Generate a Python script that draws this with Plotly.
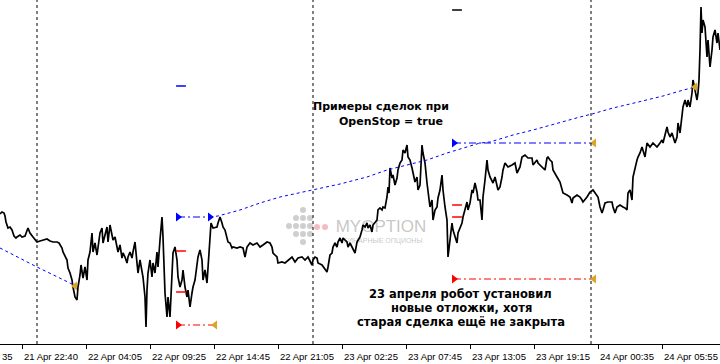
import plotly.graph_objects as go

# ---------------- data (price in points, x = bar index) ----------------
bar_idx = [0, 2, 4, 5, 6, 8, 10, 12, 14, 16, 17, 20, 22, 25, 28, 30, 33, 37, 40, 43, 47, 50, 53, 57, 59, 62, 63, 67, 68, 70,
           72, 73, 75, 77, 78, 80, 81, 83, 85, 87, 88, 90, 92, 93, 95, 97, 98, 100, 102, 103, 105, 107, 108, 110, 112, 113, 115, 117, 118, 120,
           122, 123, 125, 127, 128, 130, 132, 133, 135, 137, 138, 140, 142, 143, 145, 146, 147, 148, 150, 152, 153, 155, 157, 158, 160, 162, 163, 164, 165, 167,
           168, 170, 172, 173, 175, 177, 178, 180, 182, 183, 185, 187, 188, 190, 192, 193, 195, 197, 198, 200, 202, 203, 205, 207, 208, 210, 211, 213, 217, 218,
           220, 222, 223, 225, 227, 228, 230, 232, 233, 237, 240, 243, 245, 247, 250, 253, 257, 260, 263, 267, 270, 272, 273, 277, 278, 282, 285, 288, 292, 295,
           298, 302, 305, 308, 310, 312, 313, 315, 317, 318, 322, 325, 327, 328, 330, 332, 333, 335, 337, 338, 340, 342, 343, 347, 348, 350, 353, 355, 357, 358,
           360, 362, 363, 365, 367, 368, 370, 372, 373, 377, 378, 380, 382, 383, 385, 387, 388, 389, 390, 392, 393, 395, 397, 398, 400, 402, 403, 405, 407, 408,
           410, 412, 413, 415, 417, 418, 420, 422, 423, 425, 427, 428, 430, 432, 433, 435, 437, 438, 440, 442, 443, 445, 447, 448, 450, 452, 453, 455, 457, 458,
           460, 462, 463, 465, 467, 468, 470, 472, 473, 475, 477, 478, 480, 482, 483, 485, 487, 488, 490, 493, 495, 498, 500, 502, 503, 505, 508, 512, 515, 517,
           520, 522, 525, 528, 532, 533, 537, 538, 542, 545, 547, 548, 550, 552, 553, 555, 557, 560, 562, 563, 567, 570, 572, 573, 577, 580, 582, 583, 587, 590,
           593, 595, 598, 600, 602, 603, 605, 608, 612, 613, 615, 617, 620, 623, 625, 627, 628, 630, 632, 633, 635, 637, 638, 640, 642, 643, 645, 647, 650, 653,
           657, 660, 662, 663, 667, 668, 670, 672, 673, 675, 677, 678, 680, 682, 683, 685, 687, 688, 690, 692, 693, 695, 697, 698, 699, 700, 701, 702, 703, 705,
           707, 708, 710, 712, 713, 715, 717, 718, 720]
price = [129, 131, 130, 127, 121, 115, 116, 113, 107, 105, 106, 108, 106, 107, 115, 110, 106, 101, 102, 103, 104, 102, 101, 101, 100, 95, 91, 83, 75, 70,
         63, 56, 46, 43, 56, 68, 78, 65, 76, 63, 83, 91, 110, 91, 100, 88, 96, 110, 115, 100, 108, 116, 101, 118, 108, 103, 106, 96, 91, 98,
         85, 90, 86, 80, 86, 91, 85, 91, 101, 80, 70, 83, 73, 66, 46, 16, 53, 70, 83, 66, 80, 70, 91, 76, 103, 126, 106, 76, 50, 26,
         46, 26, 80, 90, 96, 83, 66, 56, 63, 73, 56, 46, 53, 36, 50, 56, 63, 76, 86, 93, 83, 63, 73, 60, 73, 103, 120, 115, 116, 120,
         126, 120, 116, 113, 106, 101, 100, 95, 96, 95, 96, 95, 86, 96, 100, 98, 100, 96, 98, 101, 100, 96, 90, 86, 80, 81, 80, 83, 86, 81,
         85, 86, 83, 86, 81, 78, 83, 86, 85, 80, 78, 73, 71, 76, 88, 90, 96, 100, 96, 101, 105, 100, 105, 101, 96, 100, 93, 90, 101, 103,
         106, 113, 118, 116, 120, 115, 118, 111, 118, 123, 133, 135, 133, 136, 135, 146, 156, 150, 175, 165, 168, 158, 165, 173, 180, 183, 193, 190, 198, 186,
         183, 175, 170, 161, 166, 153, 158, 198, 190, 180, 160, 150, 136, 143, 123, 133, 136, 145, 153, 168, 153, 136, 123, 86, 106, 120, 113, 106, 100, 110,
         116, 120, 126, 133, 141, 133, 140, 153, 150, 160, 151, 143, 143, 123, 146, 163, 183, 173, 166, 160, 166, 153, 156, 166, 173, 180, 176, 178, 180, 170,
         176, 186, 188, 185, 185, 178, 183, 180, 176, 173, 185, 186, 183, 181, 173, 170, 166, 161, 153, 150, 148, 146, 140, 145, 148, 146, 143, 141, 146, 151,
         153, 150, 146, 136, 130, 133, 140, 141, 141, 136, 130, 136, 138, 136, 135, 133, 150, 153, 143, 166, 176, 183, 186, 190, 196, 193, 186, 200, 196, 200,
         196, 200, 203, 200, 216, 211, 206, 210, 206, 200, 206, 220, 210, 226, 236, 243, 236, 243, 236, 250, 263, 253, 243, 250, 263, 293, 336, 310, 323, 316,
         286, 303, 276, 293, 306, 313, 300, 310, 293]

# time axis
tick_pos = [22, 86, 150, 214, 278, 342, 406, 470, 534, 598, 662]
tick_text = ["21 Apr 22:40", "22 Apr 04:05", "22 Apr 09:25", "22 Apr 14:45", "22 Apr 21:05",
             "23 Apr 02:25", "23 Apr 07:45", "23 Apr 13:05", "23 Apr 19:15", "24 Apr 00:35", "24 Apr 05:55"]
day_separators = [37, 313, 591]

# trades: open (arrow) -> close (gold triangle)
buy_trade1_x = [0, 37, 74]
buy_trade1_y = [95, 76, 58]
buy_trade2_x = [210, 218, 240, 260, 280, 313, 340, 367, 387, 407, 427, 447, 467, 480, 490, 513, 533, 547, 563, 580, 592, 613, 630, 647, 663, 680, 695]
buy_trade2_y = [126, 127, 133, 140, 146, 153, 159, 166, 173, 178, 183, 190, 196, 200, 201, 208, 213, 217, 221, 226, 229, 235, 239, 243, 247, 252, 256]

buy_stop_orders = [([178, 210], 126), ([454, 594], 200)]
sell_stop_orders = [([178, 215], 18), ([454, 594], 64)]
close_marks_x = [75, 215, 594, 594, 695]
close_marks_y = [57, 18, 200, 64, 256]
buy_arrow_x = [178, 210, 454]
buy_arrow_y = [126, 126, 200]
sell_arrow_x = [178, 454]
sell_arrow_y = [18, 64]
sl_red_x = [181, 181, 457, 457]
sl_red_y = [92, 51, 138, 126]
tp_blue_x = [181]
tp_blue_y = [257]
tp_black_x = [457]
tp_black_y = [333]

BLUE = "#0000FF"
RED = "#FF0000"
GOLD = "#DAA520"

fig = go.Figure()

# watermark (below price)
fig.add_trace(go.Scatter(x=[381, 383], y=[115, 102], mode="text",
                         text=["MYOPTION", "БИНАРНЫЕ ОПЦИОНЫ"],
                         textfont=dict(family="Liberation Sans", size=[17, 7], color="rgba(150,150,150,0.55)"),
                         hoverinfo="skip", showlegend=False))

fig.add_trace(go.Scatter(x=bar_idx, y=price, mode="lines",
                         line=dict(color="black", width=1.7), hoverinfo="skip", showlegend=False))

for xs, ys in [(buy_trade1_x, buy_trade1_y), (buy_trade2_x, buy_trade2_y)]:
    fig.add_trace(go.Scatter(x=xs, y=ys, mode="lines",
                             line=dict(color=BLUE, width=1, dash="3px,3px"), hoverinfo="skip", showlegend=False))

for xs, lvl in buy_stop_orders:
    fig.add_trace(go.Scatter(x=xs, y=[lvl] * len(xs), mode="lines",
                             line=dict(color=BLUE, width=1, dash="7px,3px,2px,3px"), hoverinfo="skip", showlegend=False))
for xs, lvl in sell_stop_orders:
    fig.add_trace(go.Scatter(x=xs, y=[lvl] * len(xs), mode="lines",
                             line=dict(color=RED, width=1, dash="7px,3px,2px,3px"), hoverinfo="skip", showlegend=False))

fig.add_trace(go.Scatter(x=buy_arrow_x, y=buy_arrow_y, mode="markers",
                         marker=dict(symbol="triangle-right", size=8, color=BLUE), hoverinfo="skip", showlegend=False))
fig.add_trace(go.Scatter(x=sell_arrow_x, y=sell_arrow_y, mode="markers",
                         marker=dict(symbol="triangle-right", size=8, color=RED), hoverinfo="skip", showlegend=False))
fig.add_trace(go.Scatter(x=close_marks_x, y=close_marks_y, mode="markers",
                         marker=dict(symbol="triangle-left", size=8, color=GOLD), hoverinfo="skip", showlegend=False))
for xs, ys, col in [(sl_red_x, sl_red_y, RED), (tp_blue_x, tp_blue_y, BLUE), (tp_black_x, tp_black_y, "black")]:
    fig.add_trace(go.Scatter(x=xs, y=ys, mode="markers",
                             marker=dict(symbol="line-ew", size=7, line=dict(color=col, width=1.5)),
                             hoverinfo="skip", showlegend=False))

# day separators
for sx in day_separators:
    fig.add_shape(type="line", x0=sx, x1=sx, y0=0, y1=1, xref="x", yref="paper",
                  line=dict(color="black", width=1, dash="3px,3px"))

# watermark logo dots
logo_gray = [(303, 133), (296, 125), (303, 125), (310, 125), (289, 117), (296, 117), (303, 117), (310, 117),
             (296, 109), (303, 109), (310, 109), (303, 101)]
logo_pink = [(317, 116), (325, 116)]
for cx, cy in logo_gray:
    fig.add_shape(type="circle", x0=cx - 3, x1=cx + 3, y0=cy - 3, y1=cy + 3, layer="below",
                  fillcolor="rgba(175,175,175,0.6)", line=dict(width=0))
for cx, cy in logo_pink:
    fig.add_shape(type="circle", x0=cx - 3, x1=cx + 3, y0=cy - 3, y1=cy + 3, layer="below",
                  fillcolor="rgba(240,160,165,0.7)", line=dict(width=0))

# annotations
notes = [
    ("Примеры сделок при", 381, 237, 11),
    ("OpenStop = true", 391, 222, 11),
    ("23 апреля робот установил", 460, 49, 11.5),
    ("новые отложки, хотя", 461, 35, 11.5),
    ("старая сделка ещё не закрыта", 461, 21, 11.5),
]
for txt, ax, ay, fs in notes:
    fig.add_annotation(x=ax, y=ay, text="<b>" + txt + "</b>", showarrow=False,
                       font=dict(family="DejaVu Sans", size=fs, color="black"))
fig.add_annotation(x=0, y=-0.015, xref="paper", yref="paper", text="35", showarrow=False,
                   xanchor="left", yanchor="top", font=dict(family="Liberation Sans", size=9.5, color="black"))

fig.update_layout(
    width=720, height=364,
    margin=dict(l=0, r=0, t=0, b=20, autoexpand=False),
    paper_bgcolor="white", plot_bgcolor="white",
    showlegend=False,
    xaxis=dict(range=[0, 720], showgrid=False, zeroline=False, showline=True, linecolor="black", linewidth=1,
               tickmode="array", tickvals=tick_pos, ticktext=tick_text, ticks="outside", ticklen=4,
               tickcolor="black", tickfont=dict(family="Liberation Sans", size=9.5, color="black"),
               ticklabelshift=29, ticklabeloverflow="allow", automargin=False, fixedrange=True),
    yaxis=dict(range=[-1, 343], visible=False, fixedrange=True, automargin=False),
)

fig.write_html("out.html", config={"displayModeBar": False},
               post_script="document.body.style.margin='0px';document.body.style.overflow='hidden';")
